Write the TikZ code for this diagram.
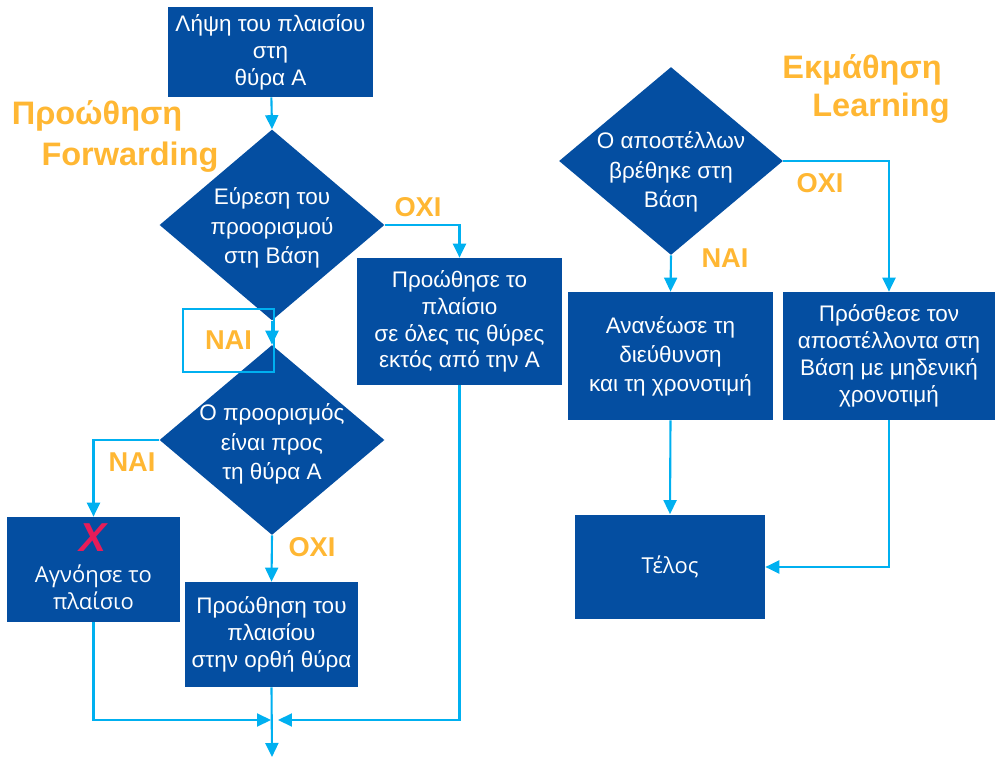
\documentclass[tikz,border=0pt]{standalone}
\usepackage{fontspec}
\setmainfont{Liberation Sans}
\newfontfamily\segfont{Open Sans}
\usepackage{tikz}
\usetikzlibrary{shapes.geometric,arrows.meta}
\definecolor{BoxBlue}{RGB}{4,78,161}
\definecolor{LineBlue}{RGB}{0,176,240}
\definecolor{LabOrange}{RGB}{255,183,51}
\definecolor{XRed}{RGB}{232,28,88}

\begin{document}
\begin{tikzpicture}[x=0.02cm,y=-0.02cm,
    box/.style={fill=BoxBlue,text=white,align=center,inner sep=0pt,
        font=\fontsize{12.8}{15.3}\selectfont},
    dmd/.style={diamond,fill=BoxBlue,inner sep=0pt,minimum width=4.5cm,minimum height=3.82cm},
    dtxt/.style={text=white,align=center,font=\fontsize{12.8}{16.8}\selectfont},
    arr/.style={LineBlue,line width=1.2pt,-{Triangle[length=0.28cm,width=0.26cm]}},
    yes/.style={text=LabOrange,font=\bfseries\fontsize{15.5}{18}\selectfont},
    head/.style={text=LabOrange,font=\bfseries\fontsize{18.5}{22}\selectfont}]
  \useasboundingbox (0,0) rectangle (1002,757);

  \node[head] (fwdGr) at (97,116) {Προώθηση};
  \node[head] (fwdEn) at (130,157) {Forwarding};
  \node[head] (lrnGr) at (862,70) {Εκμάθηση};
  \node[head] (lrnEn) at (881,108) {Learning};

  \node[box,minimum width=4.1cm,minimum height=1.8cm] (recv) at (270.5,52) {Λήψη του πλαισίου\\στη\\θύρα Α};
  \node[dmd] (find) at (272,225) {};
  \node[dtxt] at (272,228) {Εύρεση του\\προορισμού\\στη Βάση};
  \node[box,minimum width=4.1cm,minimum height=2.54cm] (flood) at (459.5,321.5) {Προώθησε το\\πλαίσιο\\σε όλες τις θύρες\\εκτός από την Α};
  \node[dmd,minimum height=3.8cm] (same) at (272,440) {};
  \node[dtxt] at (272,444) {Ο προορισμός\\είναι προς\\τη θύρα Α};
  \node[box,minimum width=3.46cm,minimum height=2.1cm] (drop) at (93.5,569.5) {};
  \node[box,fill=none,font=\segfont\fontsize{12.5}{15.5}\selectfont] at (93.5,587) {Αγνόησε το\\πλαίσιο};
  \node[text=XRed,font=\bfseries\itshape\fontsize{23}{23}\selectfont] (xmark) at (93,538) {X};
  \node[box,minimum width=3.46cm,minimum height=2.1cm] (fwd) at (271.5,634.5) {Προώθηση του\\πλαισίου\\στην ορθή θύρα};

  \node[dmd,minimum width=4.48cm,minimum height=3.76cm] (src) at (671,161) {};
  \node[dtxt] at (671,172) {Ο αποστέλλων\\βρέθηκε στη\\Βάση};
  \node[box,minimum width=4.1cm,minimum height=2.56cm,font=\fontsize{12.8}{16.5}\selectfont] (upd) at (670.5,356) {Ανανέωσε τη\\διεύθυνση\\και τη χρονοτιμή};
  \node[box,minimum width=4.24cm,minimum height=2.56cm] (add) at (889,356) {Πρόσθεσε τον\\αποστέλλοντα στη\\Βάση με μηδενική\\χρονοτιμή};
  \node[box,minimum width=3.8cm,minimum height=2.1cm,font=\segfont\fontsize{12.5}{15.5}\selectfont] (done) at (670,567) {Τέλος};

  \coordinate (mL) at (271,720);
  \coordinate (mR) at (278,720);
  \coordinate (out) at (272,757);

  \draw[arr] (recv) -- (find.north);
  \draw[arr] (find.east) -| (flood.north);
  \node[yes] (noA) at (418,207) {ΟΧΙ};
  \draw[arr] (find.south) -- (same.north);
  \node[yes,draw=LineBlue,line width=1.2pt,minimum width=1.82cm,minimum height=1.26cm,inner sep=0pt] (yesA) at (228.5,340.5) {ΝΑΙ};
  \draw[arr] (same.west) -| (drop.north);
  \node[yes] (yesB) at (132,462) {ΝΑΙ};
  \draw[arr] (same.south) -- (fwd.north);
  \node[yes] (noB) at (312,547) {ΟΧΙ};
  \draw[arr] (drop.south) |- (mL);
  \draw[arr] (flood.south) |- (mR);
  \draw[arr] (fwd.south) -- (out);

  \draw[arr] (src.east) -| (add.north);
  \node[yes] (noC) at (820,183) {ΟΧΙ};
  \draw[arr] (src.south) -- (upd.north);
  \node[yes] (yesC) at (725,258) {ΝΑΙ};
  \draw[arr] (upd.south) -- (done.north);
  \draw[arr] (add.south) |- (done.east);
\end{tikzpicture}
\end{document}
